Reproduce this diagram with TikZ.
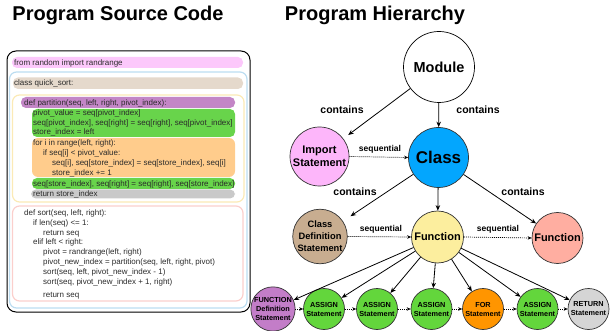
\documentclass[tikz,border=0pt]{standalone}
\usepackage{fontspec}
\setmainfont{Liberation Sans}
\usetikzlibrary{arrows.meta}
\definecolor{pinkbar}{HTML}{FCC8FB}
\definecolor{tanbar}{HTML}{E5D9CC}
\definecolor{purplebar}{HTML}{C386C6}
\definecolor{greenbar}{HTML}{68D44B}
\definecolor{orangebar}{HTML}{FFCC8C}
\definecolor{graybar}{HTML}{C9C9C9}
\definecolor{blueborder}{HTML}{BCDDF1}
\definecolor{yellowborder}{HTML}{FBEAB6}
\definecolor{redborder}{HTML}{FBCFCC}
\definecolor{codegray}{HTML}{2A2A2A}
\definecolor{importc}{HTML}{FDB6FA}
\definecolor{classc}{HTML}{03A6FE}
\definecolor{cdsc}{HTML}{C8AD90}
\definecolor{funcy}{HTML}{FCEE9E}
\definecolor{funcs}{HTML}{FFAEA1}
\definecolor{fdefc}{HTML}{C37DC8}
\definecolor{assignc}{HTML}{63D63C}
\definecolor{forc}{HTML}{FF9500}
\definecolor{retc}{HTML}{D5D5D5}
\definecolor{circborder}{HTML}{333333}
\begin{document}
\begin{tikzpicture}[x=1pt,y=-1pt,
  code/.style={anchor=mid west, inner sep=0pt, font=\fontsize{8}{9.5}\selectfont, text=codegray},
  bar/.style={rounded corners=5pt},
  frame/.style={rounded corners=7pt, line width=1.2pt},
  title/.style={anchor=base, inner sep=0pt, font=\bfseries\fontsize{20}{24}\selectfont},
  circ/.style={circle, draw=circborder, line width=0.7pt, inner sep=0pt, align=center},
  small/.style={circ, minimum size=41pt, font=\bfseries\fontsize{7.3}{9}\selectfont},
  arr/.style={-{Stealth[length=5.5pt,width=4.5pt]}, line width=0.8pt},
  seqarr/.style={-{Stealth[length=4pt,width=3.5pt]}, line width=0.7pt, dash pattern=on 1pt off 1pt},
  lbl/.style={inner sep=0pt, font=\bfseries\fontsize{10.5}{12}\selectfont},
  slbl/.style={inner sep=0pt, font=\bfseries\fontsize{8.5}{10}\selectfont}
]
\useasboundingbox (0,0) rectangle (613,331);
% titles
\node[title] (t1) at (118,21) {Program Source Code};
\node[title] (t2) at (375,21) {Program Hierarchy};

% ---------- source code panel ----------
\draw[black, line width=1pt, rounded corners=9pt] (7,51) rectangle (250,312);
\fill[pinkbar, bar] (12,57) rectangle (243,68);
\draw[blueborder, frame] (9.5,72) rectangle (247,308);
\fill[tanbar, bar] (13,77.5) rectangle (243,89);
\draw[yellowborder, frame] (12.5,95) rectangle (244,202);
\fill[purplebar, bar] (21,97) rectangle (235,108);
\fill[greenbar, bar] (32,109) rectangle (235,137);
\fill[orangebar, rounded corners=6pt] (32,138) rectangle (235,177);
\fill[greenbar, bar] (32,178) rectangle (235,189);
\fill[graybar, bar] (31,189.5) rectangle (235,198.5);
\draw[redborder, frame] (12.5,206) rectangle (243,301);

\node[code] (c1) at (14,62.5) {from random import randrange};
\node[code] (c2) at (14,83) {class quick\_sort:};
\node[code] (c3) at (24,102.5) {def partition(seq, left, right, pivot\_index):};
\node[code] (c4) at (33,113) {pivot\_value = seq[pivot\_index]};
\node[code] (c5) at (33,122.5) {seq[pivot\_index], seq[right] = seq[right], seq[pivot\_index]};
\node[code] (c6) at (33,132) {store\_index = left};
\node[code] (c7) at (33,143) {for i in range(left, right):};
\node[code] (c8) at (43,152.5) {if seq[i] < pivot\_value:};
\node[code] (c9) at (52,163) {seq[i], seq[store\_index] = seq[store\_index], seq[i]};
\node[code] (c10) at (52,172.5) {store\_index += 1};
\node[code] (c11) at (33,183.5) {seq[store\_index], seq[right] = seq[right], seq[store\_index]};
\node[code] (c12) at (33,194) {return store\_index};
\node[code] (c13) at (24,213) {def sort(seq, left, right):};
\node[code] (c14) at (33,223) {if len(seq) <= 1:};
\node[code] (c15) at (43,232.5) {return seq};
\node[code] (c16) at (33,242) {elif left < right:};
\node[code] (c17) at (43,252) {pivot = randrange(left, right)};
\node[code] (c18) at (43,262) {pivot\_new\_index = partition(seq, left, right, pivot)};
\node[code] (c19) at (43,272) {sort(seq, left, pivot\_new\_index - 1)};
\node[code] (c20) at (43,282) {sort(seq, pivot\_new\_index + 1, right)};
\node[code] (c21) at (43,295) {return seq};

% ---------- hierarchy ----------
\node[circ, draw=black, fill=white, minimum size=71pt, font=\bfseries\fontsize{14.5}{16}\selectfont] (module) at (439,67) {Module};
\node[circ, fill=importc, minimum size=59pt, font=\bfseries\fontsize{11}{13.5}\selectfont] (import) at (319.5,156.5) {Import\\Statement};
\node[circ, fill=classc, minimum size=60pt, font=\bfseries\fontsize{17}{19}\selectfont] (class) at (438.5,157.5) {Class};
\node[circ, fill=cdsc, minimum size=54pt, font=\bfseries\fontsize{9.3}{12}\selectfont] (cds) at (320,236.5) {Class\\Definition\\Statement};
\node[circ, fill=funcy, minimum size=52pt, font=\bfseries\fontsize{11}{13}\selectfont] (func) at (437.5,237) {Function};
\node[circ, fill=funcs, minimum size=51pt, font=\bfseries\fontsize{11}{13}\selectfont] (func2) at (557.5,238) {Function};

\node[small, fill=fdefc] (b1) at (273,309) {FUNCTION\\Definition\\Statement};
\node[small, fill=assignc] (b2) at (324,309) {ASSIGN\\Statement};
\node[small, fill=assignc] (b3) at (377,309) {ASSIGN\\Statement};
\node[small, fill=assignc] (b4) at (431.5,309) {ASSIGN\\Statement};
\node[small, fill=forc] (b5) at (483,309) {FOR\\Statement};
\node[small, fill=assignc] (b6) at (537.5,309) {ASSIGN\\Statement};
\node[small, fill=retc] (b7) at (588.5,309) {RETURN\\Statement};

% contains arrows
\draw[arr, shorten >=6pt] (module) -- (import);
\draw[arr] (module) -- (class);
\draw[arr, shorten >=9pt] (class) -- (cds);
\draw[arr] (class) -- (func);
\draw[arr] (class) -- (func2);
\foreach \b in {b1,b2,b3,b4,b5,b6,b7} { \draw[arr] (func) -- (\b); }

% sequential arrows
\draw[seqarr] (import.east) -- (class.west);
\draw[seqarr] (cds.east) -- (func.west);
\draw[seqarr] (func.east) -- (func2.west);
\draw[seqarr] (b1) -- (b2);
\draw[seqarr] (b2) -- (b3);
\draw[seqarr] (b3) -- (b4);
\draw[seqarr] (b4) -- (b5);
\draw[seqarr] (b5) -- (b6);
\draw[seqarr] (b6) -- (b7);

% labels
\node[lbl] (l1) at (342,110) {contains};
\node[lbl] (l2) at (478,110) {contains};
\node[lbl] (l3) at (355,192) {contains};
\node[lbl] (l4) at (523,192) {contains};
\node[slbl] (s1) at (380,149) {sequential};
\node[slbl] (s2) at (381,229) {sequential};
\node[slbl] (s3) at (498,229) {sequential};
\end{tikzpicture}
\end{document}
